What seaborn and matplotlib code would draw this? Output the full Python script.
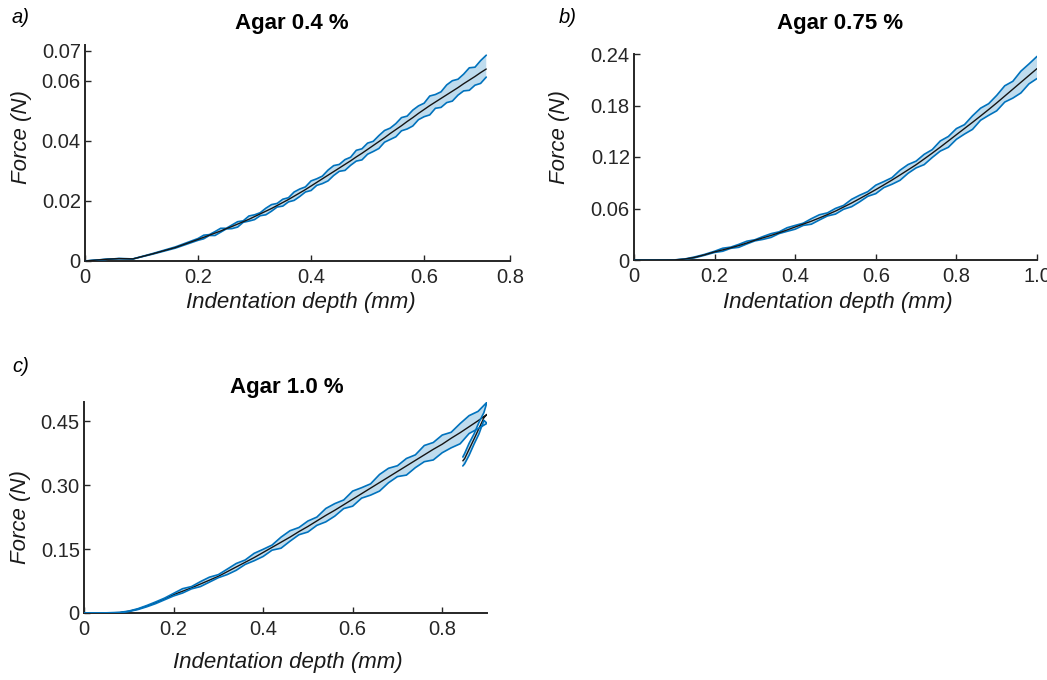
import numpy as np
import matplotlib
matplotlib.use("Agg")
import matplotlib.pyplot as plt
import seaborn as sns

sns.set_style("ticks")
plt.rcParams["font.family"] = ["Liberation Sans", "DejaVu Sans"]

# ---------------- Panel a: Agar 0.4 % ----------------
xa = [0, 0.04, 0.06, 0.085, 0.12, 0.16, 0.20,
      0.21, 0.22, 0.23, 0.24, 0.25, 0.26, 0.27, 0.28, 0.29, 0.30,
      0.31, 0.32, 0.33, 0.34, 0.35, 0.36, 0.37, 0.38, 0.39, 0.40,
      0.41, 0.42, 0.43, 0.44, 0.45, 0.46, 0.47, 0.48, 0.49, 0.50,
      0.51, 0.52, 0.53, 0.54, 0.55, 0.56, 0.57, 0.58, 0.59, 0.60,
      0.61, 0.62, 0.63, 0.64, 0.65, 0.66, 0.67, 0.68, 0.69, 0.70, 0.71]
mean_a = [0, 0.0006, 0.0008, 0.0007, 0.0024, 0.0045, 0.0072,
          0.0079, 0.0086, 0.0093, 0.0100, 0.0108, 0.0115, 0.0123, 0.0131, 0.0139, 0.0148,
          0.0157, 0.0166, 0.0175, 0.0185, 0.0195, 0.0205, 0.0216, 0.0227, 0.0238, 0.0250,
          0.0262, 0.0274, 0.0286, 0.0298, 0.0310, 0.0322, 0.0334, 0.0347, 0.0359, 0.0372,
          0.0385, 0.0398, 0.0411, 0.0425, 0.0438, 0.0451, 0.0465, 0.0478, 0.0492, 0.0505,
          0.0518, 0.0530, 0.0542, 0.0554, 0.0566, 0.0578, 0.0591, 0.0603, 0.0615, 0.0628, 0.0640]
upper_a = [0, 0.0006, 0.0008, 0.0007, 0.0025, 0.0047, 0.0075,
           0.0086, 0.0088, 0.0098, 0.0109, 0.0109, 0.0120, 0.0131, 0.0134, 0.0150, 0.0154,
           0.0161, 0.0176, 0.0188, 0.0192, 0.0206, 0.0211, 0.0230, 0.0240, 0.0247, 0.0267,
           0.0274, 0.0283, 0.0303, 0.0318, 0.0322, 0.0338, 0.0346, 0.0369, 0.0374, 0.0393,
           0.0399, 0.0418, 0.0435, 0.0443, 0.0458, 0.0478, 0.0483, 0.0503, 0.0517, 0.0526,
           0.0550, 0.0555, 0.0564, 0.0587, 0.0601, 0.0606, 0.0623, 0.0644, 0.0646, 0.0668, 0.0686]
lower_a = [0, 0.0006, 0.0008, 0.0007, 0.0023, 0.0043, 0.0069,
           0.0074, 0.0085, 0.0085, 0.0096, 0.0107, 0.0108, 0.0113, 0.0129, 0.0133, 0.0138,
           0.0151, 0.0154, 0.0166, 0.0180, 0.0183, 0.0197, 0.0202, 0.0215, 0.0230, 0.0235,
           0.0252, 0.0258, 0.0267, 0.0285, 0.0299, 0.0302, 0.0319, 0.0333, 0.0337, 0.0356,
           0.0365, 0.0375, 0.0396, 0.0405, 0.0414, 0.0434, 0.0440, 0.0450, 0.0471, 0.0481,
           0.0487, 0.0509, 0.0512, 0.0528, 0.0533, 0.0553, 0.0567, 0.0569, 0.0586, 0.0592, 0.0613]

# ---------------- Panel b: Agar 0.75 % ----------------
xb = [0, 0.05, 0.10, 0.125, 0.15, 0.175, 0.20,
      0.22, 0.24, 0.26, 0.28, 0.30, 0.32, 0.34, 0.36, 0.38, 0.40,
      0.42, 0.44, 0.46, 0.48, 0.50, 0.52, 0.54, 0.56, 0.58, 0.60,
      0.62, 0.64, 0.66, 0.68, 0.70, 0.72, 0.74, 0.76, 0.78, 0.80,
      0.82, 0.84, 0.86, 0.88, 0.90, 0.92, 0.94, 0.96, 0.98, 1.00]
mean_b = [0, 0, 0.0001, 0.0010, 0.0030, 0.0060, 0.0095,
          0.0118, 0.0142, 0.0168, 0.0198, 0.0230, 0.0258, 0.0286, 0.0317, 0.0350, 0.0385,
          0.0418, 0.0452, 0.0490, 0.0529, 0.0570, 0.0617, 0.0664, 0.0715, 0.0767, 0.0820,
          0.0875, 0.0931, 0.0990, 0.1050, 0.1110, 0.1177, 0.1245, 0.1315, 0.1387, 0.1460,
          0.1532, 0.1604, 0.1678, 0.1753, 0.1830, 0.1910, 0.1990, 0.2070, 0.2150, 0.2230]
upper_b = [0, 0, 0.0001, 0.0011, 0.0035, 0.0065, 0.0102,
           0.0137, 0.0150, 0.0182, 0.0219, 0.0236, 0.0273, 0.0307, 0.0328, 0.0376, 0.0403,
           0.0429, 0.0481, 0.0527, 0.0549, 0.0601, 0.0636, 0.0707, 0.0755, 0.0796, 0.0872,
           0.0914, 0.0959, 0.1046, 0.1112, 0.1152, 0.1231, 0.1286, 0.1387, 0.1439, 0.1531,
           0.1577, 0.1680, 0.1769, 0.1821, 0.1918, 0.2030, 0.2082, 0.2200, 0.2284, 0.2372]
lower_b = [0, 0, 0, 0.0009, 0.0025, 0.0055, 0.0088,
           0.0102, 0.0136, 0.0148, 0.0187, 0.0223, 0.0240, 0.0263, 0.0308, 0.0334, 0.0359,
           0.0403, 0.0417, 0.0466, 0.0513, 0.0535, 0.0591, 0.0621, 0.0678, 0.0742, 0.0773,
           0.0844, 0.0882, 0.0928, 0.1010, 0.1073, 0.1111, 0.1194, 0.1269, 0.1313, 0.1406,
           0.1467, 0.1522, 0.1628, 0.1685, 0.1738, 0.1840, 0.1886, 0.1946, 0.2052, 0.2114]

# ---------------- Panel c: Agar 1.0 % (loading, then short return) ----------------
xc = [0, 0.04, 0.08, 0.10, 0.12, 0.14, 0.16, 0.18, 0.20,
      0.22, 0.24, 0.26, 0.28, 0.30, 0.32, 0.34, 0.36, 0.38, 0.40,
      0.42, 0.44, 0.46, 0.48, 0.50, 0.52, 0.54, 0.56, 0.58, 0.60,
      0.62, 0.64, 0.66, 0.68, 0.70, 0.72, 0.74, 0.76, 0.78, 0.80,
      0.82, 0.84, 0.86, 0.88, 0.90,
      0.893, 0.882, 0.871, 0.860, 0.850, 0.846]
mean_c = [0, 0, 0.001, 0.004, 0.009, 0.016, 0.024, 0.033, 0.043,
          0.051, 0.059, 0.068, 0.077, 0.086, 0.097, 0.108, 0.119, 0.130, 0.142,
          0.154, 0.166, 0.178, 0.191, 0.203, 0.216, 0.229, 0.241, 0.254, 0.267,
          0.280, 0.293, 0.306, 0.319, 0.332, 0.345, 0.358, 0.371, 0.384, 0.396,
          0.410, 0.423, 0.437, 0.451, 0.466,
          0.458, 0.433, 0.408, 0.384, 0.362, 0.357]
upper_c = [0, 0, 0.0015, 0.0045, 0.010, 0.0175, 0.026, 0.035, 0.046,
           0.057, 0.062, 0.0736, 0.084, 0.090, 0.103, 0.1162, 0.1244, 0.140, 0.1494,
           0.1594, 0.178, 0.193, 0.2006, 0.2158, 0.225, 0.2452, 0.2566, 0.2652, 0.286,
           0.294, 0.303, 0.325, 0.3395, 0.3455, 0.3625, 0.371, 0.393, 0.400, 0.4175,
           0.424, 0.4445, 0.463, 0.473, 0.4945,
           0.470, 0.447, 0.420, 0.398, 0.374, 0.366]
lower_c = [0, 0, 0.0005, 0.0035, 0.008, 0.0145, 0.022, 0.031, 0.040,
           0.0468, 0.0566, 0.062, 0.0724, 0.0828, 0.0902, 0.1002, 0.114, 0.1226, 0.1326,
           0.1474, 0.152, 0.1684, 0.1836, 0.190, 0.2056, 0.2138, 0.2272, 0.245, 0.2506,
           0.2695, 0.2765, 0.286, 0.3055, 0.320, 0.3235, 0.341, 0.355, 0.359, 0.376,
           0.3875, 0.397, 0.421, 0.4325, 0.445,
           0.452, 0.420, 0.396, 0.370, 0.350, 0.345]

titles = ["Agar 0.4 %", "Agar 0.75 %", "Agar 1.0 %"]
panel_tags = ["a)", "b)", "c)"]
xlabel = "Indentation depth (mm)"
ylabel = "Force (N)"

BLUE = "#0072BD"
FILL = "#BFDCEE"
AXC = "#262626"

W, H = 1047, 680
fig = plt.figure(figsize=(W / 100, H / 100), dpi=100)


def px_axes(l, t, r, b):
    return fig.add_axes([l / W, 1 - b / H, (r - l) / W, (b - t) / H])


def draw(ax, x, m, u, lo, mean_z):
    x = np.asarray(x); m = np.asarray(m); u = np.asarray(u); lo = np.asarray(lo)
    ax.fill(np.concatenate([x, x[::-1]]), np.concatenate([u, lo[::-1]]),
            color=FILL, lw=0, zorder=1)
    sns.lineplot(x=x, y=u, sort=False, estimator=None, color=BLUE, lw=1.2, ax=ax, zorder=3)
    sns.lineplot(x=x, y=lo, sort=False, estimator=None, color=BLUE, lw=1.2, ax=ax, zorder=3)
    sns.lineplot(x=x, y=m, sort=False, estimator=None, color="#151515", lw=1.0, ax=ax,
                 zorder=mean_z)


def style(ax, xlim, ylim, xt, xtl, yt, ytl, ylab_xy, xlab_xy):
    ax.set_xlim(*xlim)
    ax.set_ylim(*ylim)
    ax.set_xticks(xt)
    ax.set_xticklabels(xtl)
    ax.set_yticks(yt)
    ax.set_yticklabels(ytl)
    for s in ["top", "right"]:
        ax.spines[s].set_visible(False)
    for s in ["left", "bottom"]:
        ax.spines[s].set_color(AXC)
        ax.spines[s].set_linewidth(1.4)
    ax.tick_params(direction="in", length=4, width=1, colors=AXC, labelsize=14.5, pad=3)
    ax.tick_params(axis="x", pad=5)
    ax.set_xlabel(xlabel, fontsize=16, style="italic", color="#1a1a1a")
    ax.set_ylabel(ylabel, fontsize=16, style="italic", color="#1a1a1a")
    ax.yaxis.set_label_coords(*ylab_xy)
    ax.xaxis.set_label_coords(*xlab_xy)


# panel a
ax1 = px_axes(85, 45, 510, 261)
draw(ax1, xa, mean_a, upper_a, lower_a, mean_z=4)
style(ax1, (0, 0.752), (0, 0.072), [0, 0.2, 0.4, 0.6, 0.752], ["0", "0.2", "0.4", "0.6", "0.8"],
      [0, 0.02, 0.04, 0.06, 0.07], ["0", "0.02", "0.04", "0.06", "0.07"],
      (-0.125, 0.574), (0.508, -0.144))

# panel b
ax2 = px_axes(634, 54, 1037, 260)
draw(ax2, xb, mean_b, upper_b, lower_b, mean_z=4)
style(ax2, (0, 1.0), (0, 0.24), [0, 0.2, 0.4, 0.6, 0.8, 1.0], ["0", "0.2", "0.4", "0.6", "0.8", "1.0"],
      [0, 0.06, 0.12, 0.18, 0.24], ["0", "0.06", "0.12", "0.18", "0.24"],
      (-0.159, 0.597), (0.505, -0.155))

# panel c
ax3 = px_axes(84, 402, 487, 613)
draw(ax3, xc, mean_c, upper_c, lower_c, mean_z=2)
style(ax3, (0, 0.9), (0, 0.495), [0, 0.2, 0.4, 0.6, 0.8], ["0", "0.2", "0.4", "0.6", "0.8"],
      [0, 0.15, 0.30, 0.45], ["0", "0.15", "0.30", "0.45"],
      (-0.132, 0.455), (0.505, -0.185))

# titles and panel tags (pixel positions)
for (tx, ty), t in zip([(292, 29), (840, 29), (287, 393)], titles):
    fig.text(tx / W, 1 - ty / H, t, ha="center", va="baseline", fontsize=16,
             fontweight="bold", color="black")
for (tx, ty), t in zip([(12, 23), (559, 23), (12, 372)], panel_tags):
    fig.text(tx / W, 1 - ty / H, t, ha="left", va="baseline", fontsize=14.5,
             style="italic", color="black")

fig.savefig("out.png", dpi=100)
